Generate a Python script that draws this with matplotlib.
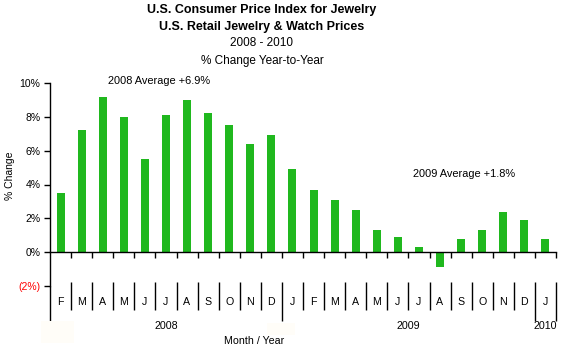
import matplotlib
matplotlib.use("Agg")
import matplotlib.pyplot as plt
from matplotlib.patches import Rectangle

plt.rcParams['font.family'] = ['Liberation Sans', 'DejaVu Sans']

# Year-over-year % change in U.S. retail jewelry & watch prices
months = ["F", "M", "A", "M", "J", "J", "A", "S", "O", "N", "D",
          "J", "F", "M", "A", "M", "J", "J", "A", "S", "O", "N", "D",
          "J"]
pct_change = [3.5, 7.2, 9.2, 8.0, 5.5, 8.1, 9.0, 8.2, 7.5, 6.4, 6.9,
              4.9, 3.7, 3.1, 2.5, 1.3, 0.9, 0.3, -0.9, 0.8, 1.3, 2.4, 1.9,
              0.8]
years = ["2008", "2009", "2010"]
year_spans = [(0, 11), (11, 23), (23, 24)]
y_ticks = [-2, 0, 2, 4, 6, 8, 10]
avg_notes = ["2008 Average +6.9%", "2009 Average +1.8%"]

W, H = 564, 349
fig = plt.figure(figsize=(W / 100, H / 100), dpi=100)
fig.patch.set_facecolor("white")

# axes box in pixel coordinates of the canvas
x0, x1 = 50, 556
y_top, y_bot = 83, 286
ax = fig.add_axes([x0 / W, (H - y_bot) / H, (x1 - x0) / W, (y_bot - y_top) / H])
ax.set_xlim(0, len(months))
ax.set_ylim(-2, 10)

green = "#20B81E"
xs = [i + 0.5 for i in range(len(months))]
ax.bar(xs, pct_change, width=0.38, color=green, edgecolor="none", zorder=2)

for s in ["top", "right"]:
    ax.spines[s].set_visible(False)
ax.spines["bottom"].set_position(("data", 0))
ax.spines["left"].set_linewidth(1.0)
ax.spines["bottom"].set_linewidth(1.0)

ax.set_xticks(range(1, len(months) + 1))
ax.set_xticklabels([])
ax.tick_params(axis="x", direction="out", length=4, width=1)

ax.set_yticks(y_ticks)
ax.set_yticklabels([f"({abs(v)}%)" if v < 0 else f"{v}%" for v in y_ticks],
                   fontsize=7.5)
ax.tick_params(axis="y", direction="out", length=4, width=1, pad=3)
for lbl, v in zip(ax.get_yticklabels(), y_ticks):
    if v < 0:
        lbl.set_color("red")

ax.set_ylabel("% Change", fontsize=7.5)
ax.yaxis.set_label_coords(-(x0 - 15) / (x1 - x0),
                          0.5 - (176 - (y_top + y_bot) / 2) / (y_bot - y_top))

# category axis below the plot: month separators, month and year labels
ppu = (y_bot - y_top) / 12.0  # pixels per percentage point
zero_px = y_top + 10 * ppu


def px_to_val(py):
    return (zero_px - py) / ppu


sep_top = px_to_val(282)
sep_bot = px_to_val(310)
long_bot = px_to_val(321)
year_edges = {a for a, b in year_spans} | {b for a, b in year_spans}
for k in range(len(months) + 1):
    bot = long_bot if k in year_edges else sep_bot
    top = -2 if k == 0 else sep_top
    ax.plot([k, k], [top, bot], color="black", lw=1, clip_on=False,
            solid_capstyle="butt")

for x, m in zip(xs, months):
    ax.text(x, px_to_val(302), m, ha="center", va="center", fontsize=7.7,
            clip_on=False)

for (a, b), yr in zip(year_spans, years):
    ax.text((a + b) / 2, px_to_val(326), yr, ha="center", va="center",
            fontsize=7.7, clip_on=False)

fig.text(254 / W, 1 - 341 / H, "Month / Year", ha="center", va="center",
         fontsize=7.7)

# faint label backgrounds
for (bx0, by0, bx1, by1) in [(41, 321, 74, 343), (267, 323, 295, 335)]:
    fig.patches.append(Rectangle((bx0 / W, 1 - by1 / H), (bx1 - bx0) / W,
                                 (by1 - by0) / H, transform=fig.transFigure,
                                 facecolor="#FFFDF8", edgecolor="none",
                                 zorder=0))

ppx = (x1 - x0) / len(months)
ax.text((108 - x0) / ppx, px_to_val(80.7), avg_notes[0], ha="left",
        va="center", fontsize=7.9, clip_on=False)
ax.text((413 - x0) / ppx, px_to_val(174), avg_notes[1], ha="left",
        va="center", fontsize=7.9, clip_on=False)

# titles
cx = 262 / W
fig.text(cx, 1 - 10 / H, "U.S. Consumer Price Index for Jewelry",
         ha="center", va="center", fontsize=9, fontweight="bold")
fig.text(cx, 1 - 27 / H, "U.S. Retail Jewelry & Watch Prices",
         ha="center", va="center", fontsize=9, fontweight="bold")
fig.text(cx, 1 - 43 / H, "2008 - 2010", ha="center", va="center", fontsize=8.5)
fig.text(cx, 1 - 61 / H, "% Change Year-to-Year", ha="center", va="center",
         fontsize=8.5)

fig.savefig("out.png", dpi=100, facecolor="white")
